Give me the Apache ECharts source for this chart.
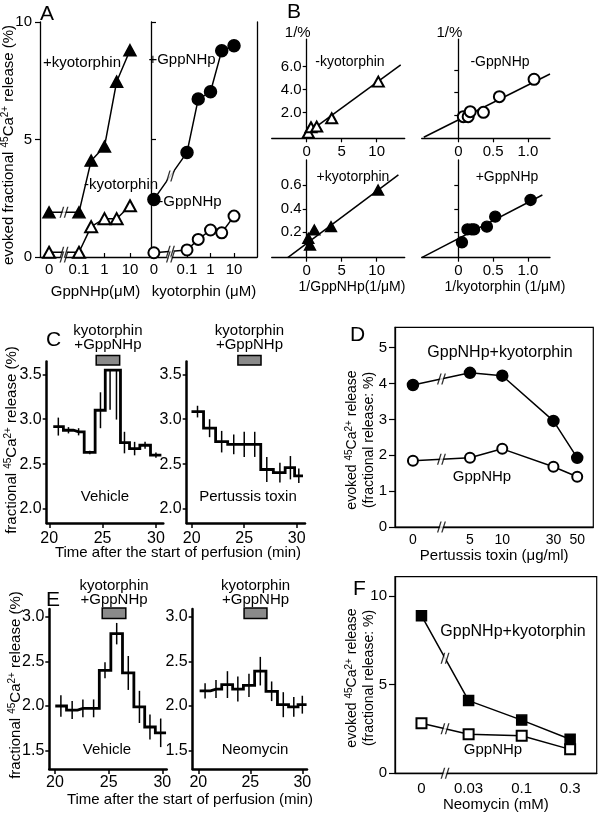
<!DOCTYPE html>
<html>
<head>
<meta charset="utf-8">
<title>Kyotorphin / GppNHp evoked 45Ca2+ release</title>
<script src="https://cdn.jsdelivr.net/npm/echarts@6.0.0/dist/echarts.min.js"></script>
<style>
html,body{margin:0;padding:0;background:#fff;}
#chart{width:601px;height:818px;}
</style>
</head>
<body>
<div id="chart"></div>
<script>
// ================= DATA =================
// Panel A : concentration-response (0 = no drug)
const aGppConc = [0, 0.1, 0.3, 1, 3, 10];               // GppNHp (uM)
const aPlusKyotorphin = [1.9, 1.9, 4.1, 4.7, 7.46, 8.8];
const aMinusKyotorphin = [0.2, 0.2, 1.29, 1.63, 1.63, 2.18];
const aKyoConc = [0, 0.1, 0.3, 1, 3, 10];               // kyotorphin (uM)
const aPlusGppNHp = [2.45, 4.45, 6.72, 7.03, 8.78, 8.99];
const aMinusGppNHp = [0.18, 0.3, 0.75, 1.15, 1.03, 1.74];
const aXTicks = [0, 0.1, 1, 10];
const aYTicks = [0, 5, 10];

// Panel B : double reciprocal plots
const bMinusKyoX = [0.23, 0.61, 1.43, 3.57, 10.23];
const bMinusKyoY = [0.26, 0.73, 0.79, 1.51, 4.70];
const bMinusKyoFit = [[-0.24, 0.06], [13.43, 6.15]];
const bMinusGppX = [0.07, 0.14, 0.17, 0.36, 0.59, 1.09];
const bMinusGppY = [1.84, 1.84, 2.29, 2.23, 3.63, 5.18];
const bMinusGppFit = [[-0.5, 0], [1.32, 5.65]];
const bPlusKyoX = [0.47, 0.23, 1.09, 3.47, 10.2];
const bPlusKyoY = [0.092, 0.149, 0.22, 0.248, 0.56];
const bPlusKyoFit = [[-2.71, -0.016], [13.1, 0.688]];
const bPlusGppX = [0.05, 0.13, 0.19, 0.225, 0.41, 0.53, 1.04];
const bPlusGppY = [0.115, 0.225, 0.225, 0.225, 0.248, 0.333, 0.475];
const bPlusGppFit = [[-0.53, -0.016], [1.21, 0.517]];
const bGppXTicks = [0, 5, 10];
const bKyoXTicks = [0, 0.5, 1.0];
const bTopYTicks = [2, 4, 6];
const bBottomYTicks = [0.2, 0.4, 0.6];

// Panel C : perfusion time courses (sample centre time, value, error)
const cVehTime = [20.85, 21.8, 22.75, 23.8, 24.8, 25.7, 26.3, 27.05, 28.0, 28.98, 30.0];
const cVehValue = [2.918, 2.877, 2.86, 2.63, 3.10, 3.546, 3.546, 2.74, 2.673, 2.71, 2.60];
const cVehErrLow = [0.1, 0.035, 0.04, 0.02, 0.2, 0.44, 0.55, 0.12, 0.075, 0.04, 0.03];
const cVehErrHigh = [0.1, 0.035, 0.04, 0.02, 0.2, 0, 0, 0.12, 0.075, 0.04, 0.03];
const cPtxTime = [20.55, 21.7, 22.85, 24.0, 25.0, 26.0, 27.15, 28.4, 29.4, 30.2];
const cPtxValue = [3.085, 2.90, 2.75, 2.72, 2.72, 2.72, 2.44, 2.405, 2.46, 2.37];
const cPtxErr = [0.065, 0.10, 0.12, 0.11, 0.14, 0.14, 0.14, 0.11, 0.13, 0.08];
const cYTicks = [2.0, 2.5, 3.0, 3.5];
const timeTicks = [20, 25, 30];
const drugPeriod = [24.4, 26.6];

// Panel D : pertussis toxin
const dPtxConc = [0, 5, 10, 30, 50];
const dGppKyo = [3.96, 4.30, 4.22, 2.96, 1.93];
const dGpp = [1.85, 1.93, 2.18, 1.68, 1.40];
const dXTicks = [0, 5, 10, 30, 50];
const dYTicks = [0, 1, 2, 3, 4, 5];

// Panel E : perfusion time courses
const eVehTime = [20.55, 21.6, 22.6, 23.6, 24.66, 25.75, 26.83, 27.87, 28.85, 29.85];
const eVehValue = [2.0, 1.955, 1.974, 1.974, 2.40, 2.81, 2.37, 1.99, 1.765, 1.70];
const eVehErr = [0.12, 0.1, 0.1, 0.1, 0.09, 0.12, 0.19, 0.18, 0.14, 0.16];
const eNeoTime = [20.65, 21.7, 22.8, 23.8, 24.87, 25.96, 27.05, 28.17, 29.18, 30.0];
const eNeoValue = [2.17, 2.19, 2.24, 2.19, 2.23, 2.39, 2.165, 2.015, 1.99, 2.015];
const eNeoErr = [0.085, 0.1, 0.15, 0.14, 0.13, 0.16, 0.11, 0.14, 0.11, 0.1];
const eYTicks = [1.5, 2.0, 2.5, 3.0];

// Panel F : neomycin
const fNeoConc = [0, 0.03, 0.1, 0.3];
const fGppKyo = [8.89, 4.1, 3.0, 1.92];
const fGpp = [2.82, 2.2, 2.12, 1.35];
const fXTicks = [0, 0.03, 0.1, 0.3];
const fYTicks = [0, 5, 10];

// ================= LAYOUT / STYLE =================
const FONT = '"Liberation Sans", Arial, Helvetica, sans-serif';
// where "0" sits on the broken log axes
const ZERO = {A1: 0.0067, A2: 0.0039, D: 1.47, F: 0.0103};
const G = {
  A1: [40, 22, 111, 235], A2: [151, 22, 106, 235],
  B1: [271.7, 39.1, 133, 99.2], B2: [421.7, 39.1, 128.3, 99.2],
  B3: [271.7, 160, 133, 97.7], B4: [421.7, 160, 128.3, 97.7],
  C1: [46.7, 361.5, 116.6, 161.5], C2: [186.7, 361.5, 118.3, 161.5],
  D: [395, 327.3, 198.3, 199.7],
  E1: [49.3, 609, 117.4, 160], E2: [192.7, 609, 114.3, 160],
  F: [395, 576.7, 201.7, 196.6]
};
// horizontal shift of the B y axes so that they sit at x = 0
const B_YAXIS_SHIFT = {B1: -35, B2: -36.6, B3: -35, B4: -36.6};
const ORDER = ['A1', 'A2', 'B1', 'B2', 'B3', 'B4', 'C1', 'C2', 'D', 'E1', 'E2', 'F'];
const IDX = {}; ORDER.forEach((k, i) => IDX[k] = i);

const SLASH = 'path://M0,12L4,0L5.6,0L1.6,12Z M5,12L9,0L10.6,0L6.6,12Z';

function zeroMap(conc, zero) { return conc.map(c => c === 0 ? zero : c); }
function pairs(xs, ys) { return xs.map((x, i) => [x, ys[i]]); }
function logLabel(v, ticks, zero) {
  for (const t of ticks) {
    const p = t === 0 ? zero : t;
    if (Math.abs(Math.log10(v) - Math.log10(p)) < 0.02) return String(t);
  }
  return '';
}
function lbl(size, margin) { return {show: true, color: '#000', fontFamily: FONT, fontSize: size, margin: margin}; }

function logX(key, min, max, ticks, zero, o) {
  o = o || {};
  const pos = zeroMap(ticks, zero);
  return {
    type: 'log', logBase: 10, gridIndex: IDX[key], min: min, max: max,
    axisLine: {show: true, onZero: false, lineStyle: {color: '#000', width: o.lw || 1.3}},
    axisTick: o.ticks ? {show: true, inside: true, length: 4, customValues: pos, lineStyle: {color: '#000', width: 1.2}} : {show: false},
    axisLabel: Object.assign(lbl(o.fs || 15, o.margin || 5), {customValues: pos, formatter: v => logLabel(v, ticks, zero)}),
    splitLine: {show: false}, minorTick: {show: false}, minorSplitLine: {show: false},
    name: o.name || '', nameLocation: 'middle', nameGap: o.nameGap || 25,
    nameTextStyle: {color: '#000', fontFamily: FONT, fontSize: o.nfs || 15}
  };
}
function valAxis(key, min, max, o) {
  o = o || {};
  return {
    type: 'value', gridIndex: IDX[key], min: min, max: max, position: o.position, offset: o.offset || 0,
    axisLine: {show: true, onZero: false, lineStyle: {color: '#000', width: o.lw || 1.3}},
    axisTick: o.ticks ? {show: true, inside: !!o.inside, length: o.tl || 4, customValues: o.ticks, lineStyle: {color: '#000', width: o.tw || 1.2}} : {show: false},
    axisLabel: (o.labels === false || !o.ticks) ? {show: false} :
      Object.assign(lbl(o.fs || 15, o.margin || 5), {customValues: o.ticks, formatter: o.fmt || (v => String(v))}),
    splitLine: {show: false},
    name: o.name || '', nameLocation: o.nameLoc || 'middle', nameGap: (o.nameGap !== undefined ? o.nameGap : 20),
    nameTextStyle: Object.assign({color: '#000', fontFamily: FONT, fontSize: 15}, o.nts || {})
  };
}

function lineS(key, data, sym, size, o) {
  o = o || {};
  const i = IDX[key];
  return {type: 'line', xAxisIndex: i, yAxisIndex: i, data: data, symbol: sym, symbolSize: size,
    showSymbol: sym !== 'none', lineStyle: {color: '#000', width: o.lw || 1.5},
    itemStyle: {color: '#000', borderColor: '#000', borderWidth: o.bw || 1.5},
    z: o.z || 3, clip: false, silent: true, animation: false};
}
function scatterS(key, data, sym, size) {
  const i = IDX[key];
  return {type: 'scatter', xAxisIndex: i, yAxisIndex: i, data: data, symbol: sym, symbolSize: size,
    itemStyle: {color: '#000', borderColor: '#000', borderWidth: 1.4, opacity: 1}, z: 4, clip: false, silent: true};
}
function breakS(key, pts) {
  const i = IDX[key];
  return [
    {type: 'scatter', xAxisIndex: i, yAxisIndex: i, data: pts, symbol: 'rect', symbolSize: [3.2, 14], symbolRotate: -18,
      itemStyle: {color: '#fff'}, z: 5, clip: false, silent: true},
    {type: 'scatter', xAxisIndex: i, yAxisIndex: i, data: pts, symbol: SLASH, symbolSize: [9, 11],
      itemStyle: {color: '#000'}, z: 6, clip: false, silent: true}
  ];
}
function breakPts(zero, nextX, ySeries) {
  const bx = Math.sqrt(zero * nextX);
  return [[bx, 0]].concat(ySeries.map(s => [bx, (s[0] + s[1]) / 2]));
}
function stepData(t, v) {
  const n = t.length;
  const out = [[t[0] - (t[1] - t[0]) / 2, v[0]]];
  for (let i = 0; i < n; i++) out.push([t[i], v[i]]);
  out.push([t[n - 1] + (t[n - 1] - t[n - 2]) / 2, v[n - 1]]);
  return out;
}
function stepS(key, t, v) {
  const i = IDX[key];
  return {type: 'line', step: 'middle', xAxisIndex: i, yAxisIndex: i, data: stepData(t, v),
    symbol: 'none', showSymbol: false, lineStyle: {color: '#000', width: 2.8, join: 'miter'}, z: 3, clip: false, silent: true};
}
function errS(key, t, v, lo, hi) {
  const i = IDX[key];
  return {type: 'custom', xAxisIndex: i, yAxisIndex: i, clip: false, silent: true, z: 4,
    data: t.map((x, k) => [x, v[k], lo[k], hi[k]]),
    renderItem: function (params, api) {
      const x = api.value(0), y = api.value(1);
      const a = api.coord([x, y - api.value(2)]);
      const b = api.coord([x, y + api.value(3)]);
      return {type: 'line', shape: {x1: a[0], y1: a[1], x2: b[0], y2: b[1]}, style: {stroke: '#000', lineWidth: 1.5}};
    }};
}
function drugS(key, barTop, barH, textBottom, yRef) {
  const i = IDX[key];
  return {type: 'custom', xAxisIndex: i, yAxisIndex: i, clip: false, silent: true, z: 7,
    data: [drugPeriod],
    renderItem: function (params, api) {
      const x1 = api.coord([api.value(0), yRef])[0];
      const x2 = api.coord([api.value(1), yRef])[0];
      return {type: 'group', children: [
        {type: 'rect', shape: {x: x1, y: barTop, width: x2 - x1, height: barH},
          style: {fill: '#8a8a8a', stroke: '#000', lineWidth: 1.5}},
        {type: 'text', x: (x1 + x2) / 2, y: textBottom,
          style: {text: 'kyotorphin\n+GppNHp', fill: '#000', font: '15px ' + FONT,
            align: 'center', textAlign: 'center', verticalAlign: 'bottom', textVerticalAlign: 'bottom', lineHeight: 14}}
      ]};
    }};
}

// ---------- axes ----------
const xAxes = [
  logX('A1', 0.00296, 66.7, aXTicks, ZERO.A1, {ticks: true, name: 'GppNHp(\u03bcM)', nameGap: 27}),
  logX('A2', 0.00294, 95, aXTicks, ZERO.A2, {ticks: true, name: 'kyotorphin (\u03bcM)', nameGap: 27}),
  valAxis('B1', -5, 14, {ticks: bGppXTicks, tl: 4, margin: 6}),
  valAxis('B2', -0.53, 1.32, {ticks: bKyoXTicks, tl: 4, margin: 6, fmt: v => v === 0 ? '0' : v.toFixed(1)}),
  valAxis('B3', -5, 14, {ticks: bGppXTicks, tl: 4, margin: 6}),
  valAxis('B4', -0.53, 1.32, {ticks: bKyoXTicks, tl: 4, margin: 6, fmt: v => v === 0 ? '0' : v.toFixed(1)}),
  valAxis('C1', 19.76, 30.69, {ticks: timeTicks, tl: 5, lw: 2.5, tw: 1.5, margin: 8, fs: 16}),
  valAxis('C2', 19.52, 30.79, {ticks: timeTicks, tl: 5, lw: 2.5, tw: 1.5, margin: 8, fs: 16}),
  logX('D', 1.0, 70.6, dXTicks, ZERO.D, {name: 'Pertussis toxin (\u03bcg/ml)', nameGap: 20, margin: 6, fs: 14}),
  valAxis('E1', 19.47, 30.41, {ticks: timeTicks, tl: 5, lw: 2.5, tw: 1.5, margin: 6, fs: 16}),
  valAxis('E2', 19.46, 30.45, {ticks: timeTicks, tl: 5, lw: 2.5, tw: 1.5, margin: 6, fs: 16}),
  logX('F', 0.00565, 0.548, fXTicks, ZERO.F, {name: 'Neomycin (mM)', nameGap: 23, margin: 8, fs: 15})
];
const yAxes = [
  valAxis('A1', 0, 10, {ticks: aYTicks, tl: 5, margin: 8}),
  valAxis('A2', 0, 10, {ticks: aYTicks, tl: 5, inside: true, labels: false}),
  valAxis('B1', -0.23, 8.4, {ticks: bTopYTicks, offset: B_YAXIS_SHIFT.B1, tl: 4, margin: 5, fmt: v => v.toFixed(1),
    name: '1/%', nameLoc: 'end', nameGap: -1, nts: {align: 'right', padding: [0, -4, 0, 0]}}),
  valAxis('B2', -0.09, 8.77, {ticks: bTopYTicks, offset: B_YAXIS_SHIFT.B2, tl: 4, labels: false,
    name: '1/%', nameLoc: 'end', nameGap: -1, nts: {align: 'right', padding: [0, -4, 0, 0]}}),
  valAxis('B3', -0.016, 0.815, {ticks: bBottomYTicks, offset: B_YAXIS_SHIFT.B3, tl: 4, margin: 5, fmt: v => v.toFixed(1)}),
  valAxis('B4', -0.016, 0.815, {ticks: bBottomYTicks, offset: B_YAXIS_SHIFT.B4, tl: 4, labels: false}),
  valAxis('C1', 1.844, 3.643, {ticks: cYTicks, tl: 4, lw: 2.5, tw: 1.5, margin: 5, fs: 16, fmt: v => v.toFixed(1)}),
  valAxis('C2', 1.844, 3.643, {ticks: cYTicks, tl: 4, lw: 2.5, tw: 1.5, margin: 5, fs: 16, fmt: v => v.toFixed(1)}),
  valAxis('D', 0, 5.57, {ticks: dYTicks, tl: 6, margin: 8, fs: 15}),
  valAxis('E1', 1.295, 3.086, {ticks: eYTicks, tl: 4, lw: 2.5, tw: 1.5, margin: 5, fs: 16, fmt: v => v.toFixed(1)}),
  valAxis('E2', 1.295, 3.086, {ticks: eYTicks, tl: 4, lw: 2.5, tw: 1.5, margin: 5, fs: 16, fmt: v => v.toFixed(1)}),
  valAxis('F', 0, 11.09, {ticks: fYTicks, tl: 6, margin: 8, fs: 15}),
  // right-hand border of panel A
  valAxis('A2', 0, 10, {position: 'right'})
];

// ---------- series ----------
const series = [].concat(
  // A
  [lineS('A1', pairs(zeroMap(aGppConc, ZERO.A1), aPlusKyotorphin), 'triangle', [12, 11]),
   lineS('A1', pairs(zeroMap(aGppConc, ZERO.A1), aMinusKyotorphin), 'emptyTriangle', [12, 11])],
  breakS('A1', breakPts(ZERO.A1, aGppConc[1], [aPlusKyotorphin, aMinusKyotorphin])),
  [lineS('A2', pairs(zeroMap(aKyoConc, ZERO.A2), aPlusGppNHp), 'circle', 12),
   lineS('A2', pairs(zeroMap(aKyoConc, ZERO.A2), aMinusGppNHp), 'emptyCircle', 11)],
  breakS('A2', breakPts(ZERO.A2, aKyoConc[1], [aPlusGppNHp, aMinusGppNHp])),
  // B
  [lineS('B1', bMinusKyoFit, 'none', 0), scatterS('B1', pairs(bMinusKyoX, bMinusKyoY), 'emptyTriangle', [11, 10]),
   lineS('B2', bMinusGppFit, 'none', 0), scatterS('B2', pairs(bMinusGppX, bMinusGppY), 'emptyCircle', 11),
   lineS('B3', bPlusKyoFit, 'none', 0), scatterS('B3', pairs(bPlusKyoX, bPlusKyoY), 'triangle', [11, 10]),
   lineS('B4', bPlusGppFit, 'none', 0), scatterS('B4', pairs(bPlusGppX, bPlusGppY), 'circle', 11)],
  // C
  [stepS('C1', cVehTime, cVehValue), errS('C1', cVehTime, cVehValue, cVehErrLow, cVehErrHigh),
   drugS('C1', 355.5, 9.5, 352, 2.5),
   stepS('C2', cPtxTime, cPtxValue), errS('C2', cPtxTime, cPtxValue, cPtxErr, cPtxErr),
   drugS('C2', 355.5, 9.5, 352, 2.5)],
  // D
  [lineS('D', pairs(zeroMap(dPtxConc, ZERO.D), dGppKyo), 'circle', 11),
   lineS('D', pairs(zeroMap(dPtxConc, ZERO.D), dGpp), 'emptyCircle', 10)],
  breakS('D', breakPts(ZERO.D, dPtxConc[1], [dGppKyo, dGpp])),
  // E
  [stepS('E1', eVehTime, eVehValue), errS('E1', eVehTime, eVehValue, eVehErr, eVehErr),
   drugS('E1', 608, 10.5, 607, 2.0),
   stepS('E2', eNeoTime, eNeoValue), errS('E2', eNeoTime, eNeoValue, eNeoErr, eNeoErr),
   drugS('E2', 608, 10.5, 607, 2.0)],
  // F
  [lineS('F', pairs(zeroMap(fNeoConc, ZERO.F), fGppKyo), 'rect', 10),
   lineS('F', pairs(zeroMap(fNeoConc, ZERO.F), fGpp), 'emptyRect', 10)],
  breakS('F', breakPts(ZERO.F, fNeoConc[1], [fGppKyo, fGpp]))
);

// ---------- free text ----------
function txt(text, x, y, size, align) {
  return {type: 'text', x: x, y: y, z: 100, silent: true,
    style: {text: text, fill: '#000', font: size + 'px ' + FONT, align: align || 'center', textAlign: align || 'center',
      verticalAlign: 'middle', textVerticalAlign: 'middle'}};
}
function rich(size) {
  const sup = Math.round(size * 0.68);
  return {
    t: {fontSize: size, fontFamily: FONT, fill: '#000', lineHeight: size + 3},
    s: {fontSize: sup, fontFamily: FONT, fill: '#000', lineHeight: sup, verticalAlign: 'top'}
  };
}
function rotTxt(text, x, y, size) {
  return {type: 'text', x: x, y: y, rotation: Math.PI / 2, z: 100, silent: true,
    style: {text: text, rich: rich(size), fill: '#000', font: size + 'px ' + FONT, align: 'center', textAlign: 'center',
      verticalAlign: 'middle', textVerticalAlign: 'middle'}};
}
const CA = '{t|Ca}{s|2+}';
const graphics = [
  txt('A', 40, 14, 21, 'left'), txt('B', 287, 12, 21, 'left'), txt('C', 46, 340, 21, 'left'),
  txt('D', 350, 335, 21, 'left'), txt('E', 46, 600, 21, 'left'), txt('F', 353, 589, 21, 'left'),
  txt('+kyotorphin', 82, 63, 15), txt('-kyotorphin', 121, 185, 15),
  txt('+GppNHp', 182, 60, 15), txt('-GppNHp', 190, 202, 15),
  txt('-kyotorphin', 350, 62, 14), txt('-GppNHp', 500, 62, 14),
  txt('+kyotorphin', 353, 177, 14), txt('+GppNHp', 507, 177, 14),
  txt('1/GppNHp(1/\u03bcM)', 352, 287, 14), txt('1/kyotorphin (1/\u03bcM)', 505, 287, 14),
  txt('Vehicle', 105, 497, 15), txt('Pertussis toxin', 248, 497, 15),
  txt('Vehicle', 107, 750, 15), txt('Neomycin', 255, 750, 15),
  txt('Time after the start of perfusion (min)', 178, 553, 15),
  txt('Time after the start of perfusion (min)', 190, 800, 15),
  txt('GppNHp+kyotorphin', 500, 353, 16), txt('GppNHp', 482, 477, 15),
  txt('GppNHp+kyotorphin', 513, 632, 16), txt('GppNHp', 493, 750, 15),
  rotTxt('{t|evoked fractional }{s|45}' + CA + '{t| release (%)}', 9, 145, 15),
  rotTxt('{t|fractional }{s|45}' + CA + '{t| release (%)}', 12, 440, 15),
  rotTxt('{t|fractional }{s|45}' + CA + '{t| release (%)}', 16, 685, 15),
  rotTxt('{t|evoked }{s|45}' + CA + '{t| release}\n{t|(fractional release: %)}', 361, 440, 14),
  rotTxt('{t|evoked }{s|45}' + CA + '{t| release}\n{t|(fractional release: %)}', 361, 678, 14)
];

const option = {
  animation: false,
  backgroundColor: '#fff',
  textStyle: {fontFamily: FONT, color: '#000'},
  grid: ORDER.map(k => ({
    left: G[k][0], top: G[k][1], width: G[k][2], height: G[k][3],
    containLabel: false, outerBoundsMode: 'none',
    show: (k === 'D' || k === 'F'), borderColor: '#000', borderWidth: 1.2, backgroundColor: 'transparent'
  })),
  xAxis: xAxes,
  yAxis: yAxes,
  series: series,
  graphic: graphics
};

const chart = echarts.init(document.getElementById('chart'), null, {renderer: 'canvas', width: 601, height: 818});
chart.setOption(option);
</script>
</body>
</html>
